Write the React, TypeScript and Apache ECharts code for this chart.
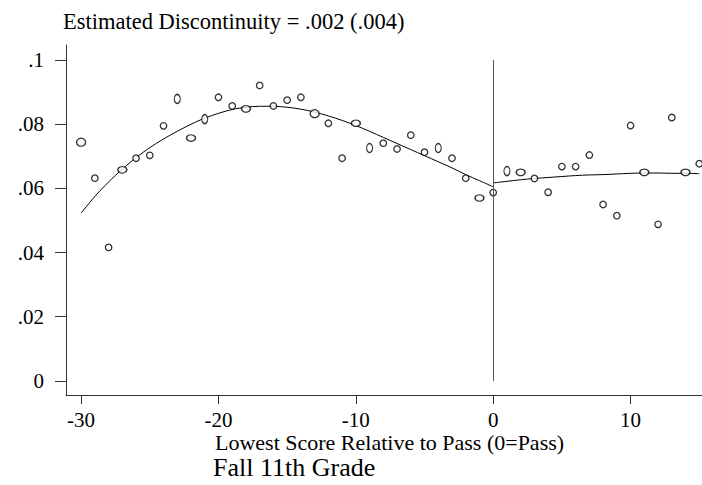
import { useEffect, useRef } from 'react'
import * as echarts from 'echarts'

// score bins relative to the pass mark
const leftScores = [-30, -29, -28, -27, -26, -25, -24, -23, -22, -21, -20, -19, -18, -17, -16, -15, -14, -13, -12, -11, -10, -9, -8, -7, -6, -5, -4, -3, -2, -1, 0]
const rightScores = [1, 2, 3, 4, 5, 6, 7, 8, 9, 10, 11, 12, 13, 14, 15]
const fitRightScores = [0, 1, 2, 3, 4, 5, 6, 7, 8, 9, 10, 11, 12, 13, 14, 15]

// bin means
const leftRates = [0.0744, 0.0632, 0.0416, 0.0658, 0.0694, 0.0703, 0.0795, 0.0879, 0.0757, 0.0816, 0.0884, 0.0857, 0.0848, 0.0921, 0.0857, 0.0875, 0.0884, 0.0833, 0.0803, 0.0694, 0.0803, 0.0726, 0.0741, 0.0723, 0.0766, 0.0713, 0.0726, 0.0694, 0.0632, 0.0570, 0.0587]
const rightRates = [0.0654, 0.0650, 0.0631, 0.0588, 0.0668, 0.0668, 0.0704, 0.0550, 0.0515, 0.0796, 0.0650, 0.0488, 0.0821, 0.0650, 0.0677]

// fitted curves on each side of the cutoff
const leftFit = [0.0523, 0.0575, 0.0620, 0.0660, 0.0696, 0.0727, 0.0754, 0.0778, 0.0800, 0.0819, 0.0834, 0.0846, 0.0853, 0.0856, 0.0856, 0.0853, 0.0847, 0.0838, 0.0826, 0.0812, 0.0796, 0.0778, 0.0759, 0.0740, 0.0721, 0.0702, 0.0683, 0.0664, 0.0643, 0.0624, 0.0605]
const rightFit = [0.0617, 0.0622, 0.0627, 0.0631, 0.0634, 0.0637, 0.0640, 0.0642, 0.0643, 0.0645, 0.0647, 0.0648, 0.0648, 0.0647, 0.0647, 0.0646]

const xTicks = [-30, -20, -10, 0, 10]
const yTicks = [0, 0.02, 0.04, 0.06, 0.08, 0.1]

const titleText = 'Estimated Discontinuity = .002 (.004)'
const xName = 'Lowest Score Relative to Pass (0=Pass)'
const caption = 'Fall 11th Grade'

// marker shapes (weights drawn as odd ellipses)
const wideBins = [-27, -22, -18, -10, -1, 2, 11, 14]
const tallBins = [-23, -21, -9, -4, 1]
const bigBins = [-30, -13]

const FONT = "'Liberation Serif', 'DejaVu Serif', serif"

function markerSize(x: number): number[] {
  if (bigBins.includes(x)) return [9, 8]
  if (wideBins.includes(x)) return [9, 6.5]
  if (tallBins.includes(x)) return [6, 9]
  return [6.5, 6.5]
}

function scatterData(xs: number[], ys: number[]) {
  return xs.map((x, i) => ({ value: [x, ys[i]], symbolSize: markerSize(x) }))
}

export default function App() {
  const chartRef = useRef<HTMLDivElement>(null)

  useEffect(() => {
    if (!chartRef.current) return
    const chart = echarts.init(chartRef.current, null, { renderer: 'svg' })

    const axisColor = '#333'
    const pointStyle = { color: '#fff', borderColor: '#000', borderWidth: 1.3 }

    chart.setOption({
      animation: false,
      backgroundColor: '#fff',
      textStyle: { fontFamily: FONT, color: '#000' },
      grid: { left: 66, top: 45, width: 636, height: 350, containLabel: false },
      xAxis: {
        type: 'value',
        min: -31.1,
        max: 15.2,
        axisLine: { show: true, onZero: false, lineStyle: { color: axisColor, width: 1 } },
        axisTick: { show: true, length: 9, customValues: xTicks, lineStyle: { color: axisColor } },
        axisLabel: {
          customValues: xTicks,
          margin: 14,
          fontSize: 21,
          fontFamily: FONT,
          color: '#000',
          formatter: (v: number) => String(v),
        },
        splitLine: { show: false },
      },
      yAxis: {
        type: 'value',
        min: -0.0044,
        max: 0.1047,
        axisLine: { show: true, onZero: false, lineStyle: { color: axisColor, width: 1 } },
        axisTick: { show: true, length: 11, customValues: yTicks, lineStyle: { color: axisColor } },
        axisLabel: {
          customValues: yTicks,
          margin: 22,
          fontSize: 21,
          fontFamily: FONT,
          color: '#000',
          formatter: (v: number) => (v === 0 ? '0' : String(v).replace(/^0/, '')),
        },
        splitLine: { show: false },
      },
      graphic: [
        { type: 'text', left: 63, top: 10, style: { text: titleText, font: `22.5px ${FONT}`, fill: '#000' } },
        { type: 'text', left: 215, top: 431, style: { text: xName, font: `22px ${FONT}`, fill: '#000' } },
        { type: 'text', left: 213, top: 454, style: { text: caption, font: `26px ${FONT}`, fill: '#000' } },
      ],
      series: [
        {
          type: 'scatter',
          data: scatterData(leftScores, leftRates),
          symbol: 'circle',
          itemStyle: pointStyle,
          z: 3,
          markLine: {
            silent: true,
            symbol: 'none',
            label: { show: false },
            lineStyle: { color: '#555', width: 1, type: 'solid' },
            data: [[{ coord: [0, 0] }, { coord: [0, 0.1] }]],
          },
        },
        {
          type: 'scatter',
          data: scatterData(rightScores, rightRates),
          symbol: 'circle',
          itemStyle: pointStyle,
          z: 3,
        },
        {
          type: 'line',
          data: leftScores.map((x, i) => [x, leftFit[i]]),
          showSymbol: false,
          smooth: 0.3,
          lineStyle: { color: '#000', width: 1 },
          z: 1,
        },
        {
          type: 'line',
          data: fitRightScores.map((x, i) => [x, rightFit[i]]),
          showSymbol: false,
          smooth: 0.3,
          lineStyle: { color: '#000', width: 1 },
          z: 1,
        },
      ],
    })

    return () => {
      chart.dispose()
    }
  }, [])

  return (
    <div
      ref={chartRef}
      style={{ position: 'fixed', left: 0, top: 0, width: 702, height: 485 }}
    />
  )
}
